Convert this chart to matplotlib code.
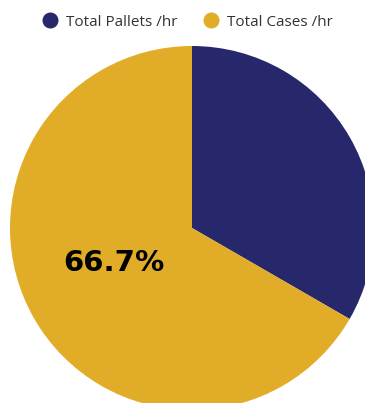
import matplotlib
matplotlib.use("Agg")
import matplotlib.pyplot as plt
from matplotlib.lines import Line2D

# throughput split, per hour
labels = ["Total Pallets /hr", "Total Cases /hr"]
values = [1, 2]
colors = ["#27286C", "#E1AC27"]

fig = plt.figure(figsize=(3.65, 4.03), dpi=100)
ax = fig.add_axes([0, 0, 1, 1])

wedges, _ = ax.pie(values, colors=colors, startangle=90, counterclock=False,
                   radius=1, center=(0, 0), wedgeprops=dict(linewidth=0))

# percentage label on the larger slice only
total = sum(values)
pct = values[1] / total * 100
ax.text(-0.43, -0.19, f"{pct:.1f}%", ha="center", va="center",
        fontsize=21, fontweight="bold", color="#000000", family="DejaVu Sans")

ax.set_xlim(-1.055, 0.9505)
ax.set_ylim(-0.9615, 1.2527)
ax.axis("off")

handles = [Line2D([], [], marker="o", ls="", color=c, markersize=10.5) for c in colors]
fig.legend(handles, labels, loc="center", bbox_to_anchor=(0.508, 1 - 22 / 403),
           ncol=2, frameon=False, handletextpad=0.25, handlelength=1.6,
           columnspacing=1.4, labelcolor="#333333",
           prop={"family": "Open Sans", "size": 11})

fig.savefig("out.png", dpi=100)
